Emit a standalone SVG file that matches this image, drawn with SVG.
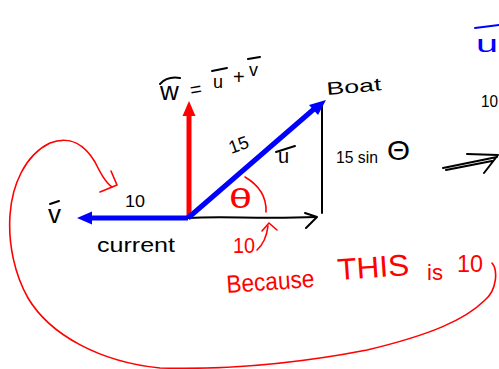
<svg xmlns="http://www.w3.org/2000/svg" width="499" height="369" viewBox="0 0 499 369">
<style>
.t{font-family:"Liberation Sans",Arial,sans-serif;}
.k{fill:#000}
.r{fill:#f00}
.b{fill:#00f}
.ink{fill:none;stroke-linecap:round;stroke-linejoin:round}
.kl{stroke:#000;stroke-width:2}
.rl{stroke:#f00;stroke-width:1.6}
.bl{stroke:#00f;stroke-width:2}
</style>
<rect width="499" height="369" fill="#fff"/>

<g id="red-loop">
  <path class="ink rl" d="M492,263 C498,270 497,290 485,300 C465,320 430,335 367,350 C300,363 233,370 160,368 C100,362 50,335 28,298 C15,275 8,245 10,215 C12,185 25,155 50,143 C70,135 85,145 95,162 C100,172 105,182 112,187"/>
  <path class="ink rl" d="M111,171 L117,185 L100,192"/>
</g>

<g id="connectors">
  <g id="triangle">
    <path class="ink kl" d="M188,218 C220,216 260,219 316,217"/>
    <path class="ink kl" d="M305,213 L317,217 L306,228"/>
    <path class="ink kl" d="M322,103 L322,213"/>
  </g>
  <g id="vec-w">
    <line x1="189" y1="218" x2="189" y2="114" stroke="#f00" stroke-width="5"/>
    <polygon points="189,101 182.5,116 195.5,116" fill="#f00"/>
  </g>
  <g id="vec-v">
    <line x1="188" y1="218" x2="90" y2="218" stroke="#00f" stroke-width="5"/>
    <polygon points="77,218 92,211.5 92,224.5" fill="#00f"/>
  </g>
  <g id="vec-u">
    <line x1="188" y1="218" x2="314" y2="109" stroke="#00f" stroke-width="5"/>
    <polygon points="326,100 318,115 309,105" fill="#00f"/>
  </g>
</g>

<g id="equation">
  <text class="t k" x="160" y="100" font-size="26">w</text>
  <path class="ink kl" d="M160,84 Q167,76 180,78"/>
  <text class="t k" x="190" y="96" font-size="20" transform="rotate(-10 196 90)">=</text>
  <text class="t k" x="213" y="88" font-size="18">u</text>
  <path class="ink kl" d="M212,71 L227,68"/>
  <text class="t k" x="233" y="84" font-size="20">+</text>
  <text class="t k" x="249" y="76" font-size="18">v</text>
  <path class="ink kl" d="M248,59 L260,57"/>
</g>

<g id="labels">
  <text class="t k" x="327" y="95" font-size="18" textLength="55" lengthAdjust="spacingAndGlyphs" transform="rotate(-5 327 95)">Boat</text>
  <text class="t k" x="228" y="151" font-size="18" textLength="20" lengthAdjust="spacingAndGlyphs" transform="rotate(-20 238 143)">15</text>
  <text class="t k" x="278" y="163" font-size="20">u</text>
  <path class="ink kl" d="M276,152 L295,146"/>
  <text class="t k" x="336" y="163" font-size="17" textLength="42" lengthAdjust="spacingAndGlyphs">15 sin</text>
  <text class="t k" x="387" y="160" font-size="28" textLength="23" lengthAdjust="spacingAndGlyphs">Θ</text>
  <text class="t k" x="125" y="207" font-size="17" textLength="20" lengthAdjust="spacingAndGlyphs">10</text>
  <text class="t k" x="48" y="223" font-size="26">v</text>
  <path class="ink kl" d="M50,204 L59,201"/>
  <text class="t k" x="97" y="252" font-size="20" textLength="78" lengthAdjust="spacingAndGlyphs">current</text>
</g>

<g id="red-notes">
  <text class="t r" x="229" y="208" font-size="27" textLength="23" lengthAdjust="spacingAndGlyphs">θ</text>
  <path class="ink rl" d="M245,177 Q267,190 266,212" stroke-width="2"/>
  <text class="t r" x="233" y="253" font-size="22" textLength="22" lengthAdjust="spacingAndGlyphs">10</text>
  <path class="ink rl" d="M257,250 Q266,242 268,226" stroke-width="2"/>
  <path class="ink rl" d="M262,231 L269,223 L277,230" stroke-width="2"/>
  <text class="t r" x="227" y="293" font-size="25" textLength="88" lengthAdjust="spacingAndGlyphs" transform="rotate(-4 227 293)">Because</text>
  <text class="t r" x="338" y="280" font-size="30" textLength="72" lengthAdjust="spacingAndGlyphs" transform="rotate(-4 338 280)">THIS</text>
  <text class="t r" x="427" y="280" font-size="22" textLength="16" lengthAdjust="spacingAndGlyphs">is</text>
  <text class="t r" x="457" y="272" font-size="24" textLength="26" lengthAdjust="spacingAndGlyphs">10</text>
</g>

<g id="right-edge">
  <path class="ink bl" d="M475,28 L499,25"/>
  <text class="t b" x="476" y="52" font-size="24" textLength="22" lengthAdjust="spacingAndGlyphs">u</text>
  <text class="t k" x="481" y="107" font-size="16" textLength="17" lengthAdjust="spacingAndGlyphs">10</text>
  <path class="ink kl" d="M443,168 L497,157 M446,170 L492,161 M467,154 L498,155 L484,173"/>
</g>
</svg>
